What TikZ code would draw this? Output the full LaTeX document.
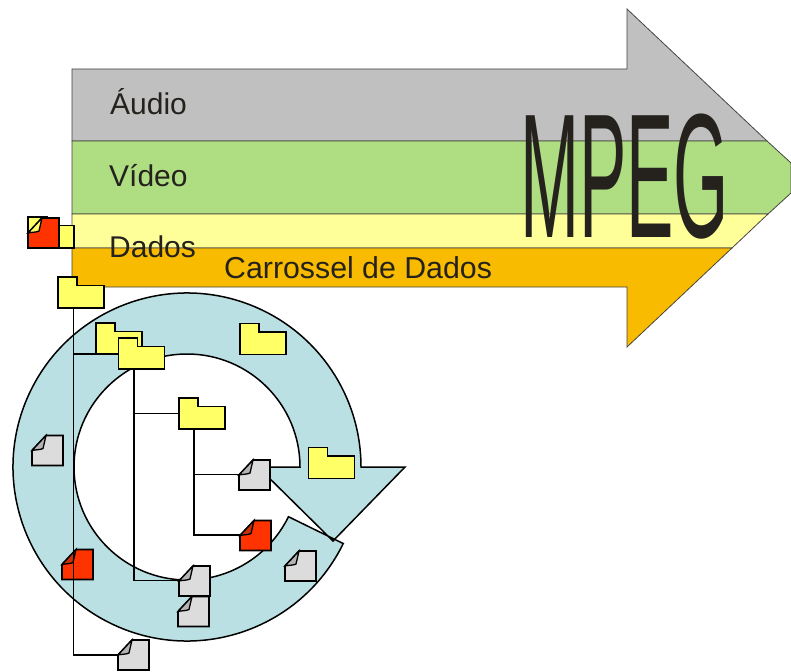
\documentclass[tikz,border=0pt]{standalone}
\usepackage{fontspec}
\setmainfont{Liberation Sans}
\definecolor{bandgray}{HTML}{C0C0C0}
\definecolor{bandgreen}{HTML}{AEDD82}
\definecolor{bandyellow}{HTML}{FFFF99}
\definecolor{bandorange}{HTML}{F8BB00}
\definecolor{ringblue}{HTML}{BAE0E3}
\definecolor{folderyellow}{HTML}{FFFF66}
\definecolor{filegray}{HTML}{DCDCDC}
\definecolor{foldgray}{HTML}{B4B4B4}
\definecolor{filered}{HTML}{FF3300}
\definecolor{foldred}{HTML}{C83208}
\definecolor{inkdark}{HTML}{25221E}
\newcommand{\foldershape}[1]{%
  \begin{scope}[shift={(#1.south west)}]
    \draw[icon,fill=folderyellow] (0,0) -- (0,31) -- (19,31) -- (19,22.5) -- (46,22.5) -- (46,0) -- cycle;
  \end{scope}}
\newcommand{\fileshape}[3]{%
  \begin{scope}[shift={(#1.south west)}]
    \draw[icon,fill=#2] (0,0) -- (0,15) -- (14,30) -- (31,30) -- (31,0) -- cycle;
    \draw[icon,line width=1.3pt,fill=#3] (0,15) -- (14,30) -- (11,17) .. controls (8,15.5) and (4,16) .. (0,15) -- cycle;
  \end{scope}}
\tikzset{
  x=1pt,y=1pt,
  band/.style={draw=inkdark!85,line width=0.8pt,line join=miter},
  icon/.style={draw=black,line width=1.7pt,line join=miter},
  link/.style={draw=black,line width=1.5pt},
  anchorbox/.style={inner sep=0pt,outer sep=0pt,minimum width=#1,minimum height=31pt,anchor=north west},
  lbl/.style={anchor=base west,inner sep=0pt,text=inkdark,font=\fontsize{30}{30}\selectfont},
}
\begin{document}
\begin{tikzpicture}
\useasboundingbox (0,0) rectangle (791,-671);
% arrow bands
\draw[band,fill=bandgray] (72,-141) -- (72,-69) -- (627,-69) -- (627,-9) -- (767,-141) -- cycle;
\draw[band,fill=bandgreen] (72,-214) -- (72,-141) -- (767,-141) -- (791,-163) -- (791,-193) -- (768,-214) -- cycle;
\draw[band,fill=bandyellow] (72,-248) -- (72,-214) -- (768,-214) -- (732,-248) -- cycle;
\draw[band,fill=bandorange] (72,-287) -- (72,-248) -- (732,-248) -- (627,-347) -- (627,-287) -- cycle;
% labels
\node[lbl] (audio) at (110,-115) {Áudio};
\node[lbl] (video) at (109,-186) {Vídeo};
\node[lbl] (dados) at (109,-257) {Dados};
\node[lbl,font=\fontsize{30.3}{30}\selectfont] (carrossel) at (224,-278) {Carrossel de Dados};
\node[anchor=base west,inner sep=0pt,text=inkdark,xscale=0.401,font=\fontsize{177}{177}\selectfont] (mpeg) at (520,-237) {MPEG};
% ring arrow
\draw[draw=black,line width=1.5pt,fill=ringblue,line join=miter]
  ([shift={(187,-467)}]-26.1:174) arc[start angle=-26.1,end angle=-360,radius=174]
  -- (361,-467) -- (405,-467) -- (333,-541) -- (258,-467) -- (300,-467)
  arc[start angle=0,end angle=333.9,radius=113] -- cycle;
% anchors of the icons
\node[anchorbox=46pt] (ftop) at (28,-217) {};
\node[anchorbox=46pt] (f0) at (58,-277) {};
\node[anchorbox=46pt] (f1) at (96,-323) {};
\node[anchorbox=46pt] (f2) at (118.5,-338) {};
\node[anchorbox=46pt] (f3) at (179,-398) {};
\node[anchorbox=46pt] (f4) at (240,-323.5) {};
\node[anchorbox=46pt] (f5) at (308.5,-447.5) {};
\node[anchorbox=31pt] (d1) at (239,-459) {};
\node[anchorbox=31pt] (d2) at (240,-519.5) {};
\node[anchorbox=31pt] (d3) at (32,-434.5) {};
\node[anchorbox=31pt] (d4) at (62,-548.5) {};
\node[anchorbox=31pt] (d5) at (179,-565) {};
\node[anchorbox=31pt] (d6) at (178,-595.5) {};
\node[anchorbox=31pt] (d7) at (285,-550) {};
\node[anchorbox=31pt,minimum height=30pt] (d8) at (118,-640) {};
\coordinate (t0) at ([xshift=-7.5pt]f0.south);
\coordinate (t1) at ([xshift=-7.5pt]f2.south);
\coordinate (t2) at ([xshift=-8pt]f3.south);
% the red file under the trunk line
\fileshape{d4}{filered}{foldred}
% connectors
\draw[link] (t0) |- (d8.west) (f1.south west) -| (t0);
\draw[link] (t1) |- (d5.west) (f3.west) -| (t1);
\draw[link] (t2) |- (d1.west) (t2) |- (d2.west);
% folders
\foldershape{ftop}
\foldershape{f0}
\foldershape{f1}
\foldershape{f2}
\foldershape{f3}
\foldershape{f4}
\foldershape{f5}
% files
\fileshape{ftop}{filered}{folderyellow}
\fileshape{d1}{filegray}{foldgray}
\fileshape{d2}{filered}{foldred}
\fileshape{d3}{filegray}{foldgray}
\fileshape{d6}{filegray}{foldgray}
\fileshape{d5}{filegray}{foldgray}
\fileshape{d7}{filegray}{foldgray}
\fileshape{d8}{filegray}{foldgray}
\end{tikzpicture}
\end{document}
